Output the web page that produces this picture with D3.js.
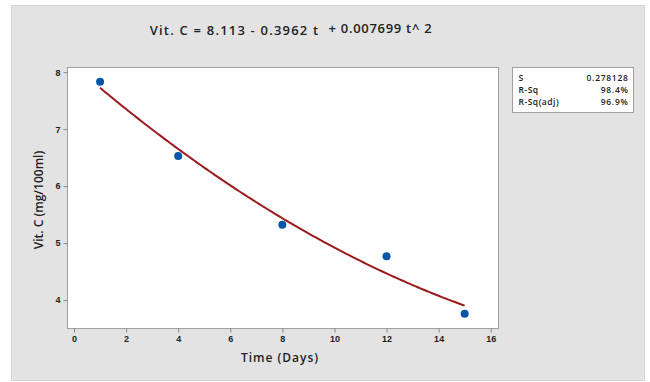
<!DOCTYPE html>
<html>
<head>
<meta charset="utf-8">
<script src="https://cdn.jsdelivr.net/npm/d3@7"></script>
<style>
  body { margin: 0; background: #fff; }
  svg { display: block; font-family: "Open Sans", "Noto Sans", sans-serif; }
  .tick text { fill: #222; font-size: 9px; }
  .tick line { stroke: #888; }
  .domain { stroke: #a0a0a0; }
</style>
</head>
<body>
<div id="chart"></div>
<script>
// observed points
const days = [1, 4, 8, 12, 15];
const vitC = [7.83, 6.53, 5.32, 4.77, 3.76];
// fitted quadratic from the title
const coefs = [8.113, -0.3962, 0.007699];
const xTicks = [0, 2, 4, 6, 8, 10, 12, 14, 16];
const yTicks = [4, 5, 6, 7, 8];
const statLabels = ['S', 'R-Sq', 'R-Sq(adj)'];
const statValues = ['0.278128', '98.4%', '96.9%'];

const W = 650, H = 382;
const margin = {top: 67, left: 67, right: 152, bottom: 54};
const width = W - margin.left - margin.right;
const height = H - margin.top - margin.bottom;

const svg = d3.select('#chart').append('svg').attr('width', W).attr('height', H);

// gray panel
svg.append('rect')
  .attr('x', 11.5).attr('y', 5.5).attr('width', 633).attr('height', 375)
  .attr('fill', '#e3e3e3').attr('stroke', '#d4d4d4');

// title
const title = svg.append('text')
  .attr('x', 291).attr('y', 35)
  .attr('text-anchor', 'middle')
  .attr('font-size', 13).attr('font-weight', 600).attr('fill', '#222')
  .attr('letter-spacing', 1.2)
  .attr('xml:space', 'preserve');
title.append('tspan').text('Vit. C = 8.113 - 0.3962 t  ');
title.append('tspan').attr('dy', -2).attr('letter-spacing', 0.7).text('+ 0.007699 t^ 2');

const xScale = d3.scaleLinear().domain([-0.27, 16.28]).range([0, width]);
const yScale = d3.scaleLinear().domain([3.51, 8.09]).range([height, 0]);

const chart = svg.append('g').attr('transform', `translate(${margin.left}, ${margin.top})`);

chart.append('rect')
  .attr('x', 0.5).attr('y', 0.5).attr('width', width).attr('height', height)
  .attr('fill', '#fff').attr('stroke', '#a0a0a0');

// axes
chart.append('g')
  .attr('transform', `translate(0, ${height + 0.5})`)
  .call(d3.axisBottom(xScale).tickValues(xTicks).tickFormat(d3.format('d')).tickSize(4).tickPadding(3).tickSizeOuter(0))
  .call(g => g.select('.domain').remove());
chart.append('g')
  .attr('transform', 'translate(0.5, 0)')
  .call(d3.axisLeft(yScale).tickValues(yTicks).tickFormat(d3.format('d')).tickSize(4).tickPadding(3).tickSizeOuter(0))
  .call(g => g.select('.domain').remove());
svg.selectAll('.tick text').attr('font-weight', 600);

// axis titles
svg.append('text')
  .attr('x', 280).attr('y', 362)
  .attr('text-anchor', 'middle')
  .attr('font-size', 12).attr('font-weight', 600).attr('letter-spacing', 1).attr('fill', '#222')
  .text('Time (Days)');
svg.append('text')
  .attr('transform', 'translate(43, 200) rotate(-90)')
  .attr('text-anchor', 'middle')
  .attr('font-size', 12).attr('font-weight', 600).attr('fill', '#222')
  .text('Vit. C (mg/100ml)');

// fitted line
const fitT = d3.range(days[0], days[days.length - 1] + 0.001, 0.1);
const lineFun = d3.line()
  .x(t => xScale(t))
  .y(t => yScale(coefs[0] + coefs[1] * t + coefs[2] * t * t));
chart.append('path')
  .datum(fitT)
  .attr('d', lineFun)
  .attr('fill', 'none')
  .attr('stroke', '#9b1a1a')
  .attr('stroke-width', 2);

// points
chart.selectAll('circle')
  .data(days.map((d, i) => [d, vitC[i]]))
  .enter().append('circle')
  .attr('r', 4)
  .attr('cx', d => xScale(d[0]))
  .attr('cy', d => yScale(d[1]))
  .attr('fill', '#0555a8');

// stats box
const box = svg.append('g').attr('transform', 'translate(512.5, 67.5)');
box.append('rect').attr('width', 121).attr('height', 45).attr('fill', '#fff').attr('stroke', '#a0a0a0');
box.selectAll('.lab').data(statLabels).enter().append('text')
  .attr('x', 6).attr('y', (d, i) => 13 + i * 12)
  .attr('letter-spacing', 0.5)
  .attr('font-size', 8.5).attr('font-weight', 600).attr('fill', '#222')
  .text(d => d);
box.selectAll('.val').data(statValues).enter().append('text')
  .attr('x', 116).attr('y', (d, i) => 13 + i * 12)
  .attr('text-anchor', 'end').attr('letter-spacing', 0.7)
  .attr('font-size', 8.5).attr('font-weight', 600).attr('fill', '#222')
  .text(d => d);
</script>
</body>
</html>
